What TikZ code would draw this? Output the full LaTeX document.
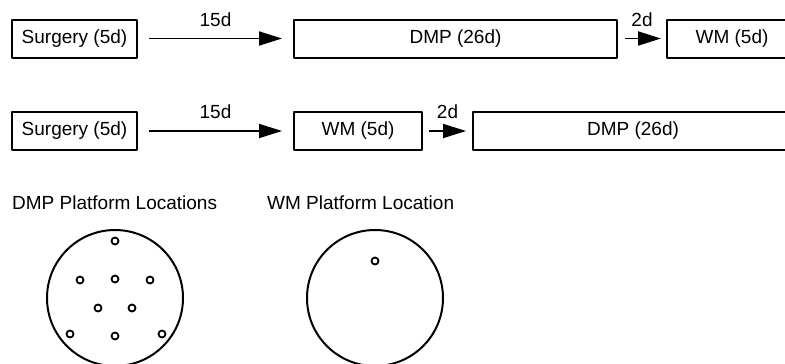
\documentclass[tikz,border=0pt]{standalone}
\usepackage{fontspec}
\setmainfont{Liberation Sans}
\usetikzlibrary{arrows.meta}
\tikzset{
  phase/.style={draw, line width=2pt, minimum height=38pt, inner sep=0pt, font=\fontsize{19}{23}\selectfont},
  lbl/.style={font=\fontsize{19}{23}\selectfont, inner sep=1pt},
  go/.style={-{Triangle[length=23pt,width=14pt]}, line width=1.8pt}
}
\begin{document}
\begin{tikzpicture}[x=1pt, y=-1pt, line join=round]
			\useasboundingbox (0,0) rectangle (785,364);
			% schedule 1
			\node[phase, minimum width=125pt] (sa) at (74.5,38.5) {Surgery (5d)};
			\node[phase, minimum width=323pt] (da) at (455.5,38.5) {DMP (26d)};
			\node[phase, minimum width=130pt] (wa) at (732,38.5) {WM (5d)};
			\draw[go, shorten <=11pt, shorten >=11pt] (sa) -- (da) node[lbl, midway, above=10pt]{15d};
			\draw[go, shorten <=7pt, shorten >=5pt] (da) -- (wa) node[lbl, midway, above=10pt]{2d};
			% schedule 2
			\node[phase, minimum width=125pt] (sb) at (74.5,131) {Surgery (5d)};
			\node[phase, minimum width=128pt] (wb) at (358,131) {WM (5d)};
			\node[phase, minimum width=320pt] (db) at (633,131) {DMP (26d)};
			\draw[go, shorten <=11pt, shorten >=11pt] (sb) -- (wb) node[lbl, midway, above=10pt]{15d};
			\draw[go, shorten <=6pt, shorten >=6pt] (wb) -- (db) node[lbl, midway, above=10pt]{2d};
			% platform locations
			\node[lbl, anchor=west] (dmpt) at (11,203) {DMP Platform Locations};
			\node[lbl, anchor=west] (wmt) at (266,203) {WM Platform Location};
			\draw[line width=2pt] (115,298) circle (68);
			\draw[line width=2pt] (375,298) circle (68);
			\foreach \i/\j in {115/241,80/280,115/279,150/280,98/308,132/308,70/334,115/336,162/334}
			\draw[line width=1.8pt] (\i,\j) circle (3.5);
			\draw[line width=1.8pt] (375,261) circle (3.5);
		\end{tikzpicture}
\end{document}
